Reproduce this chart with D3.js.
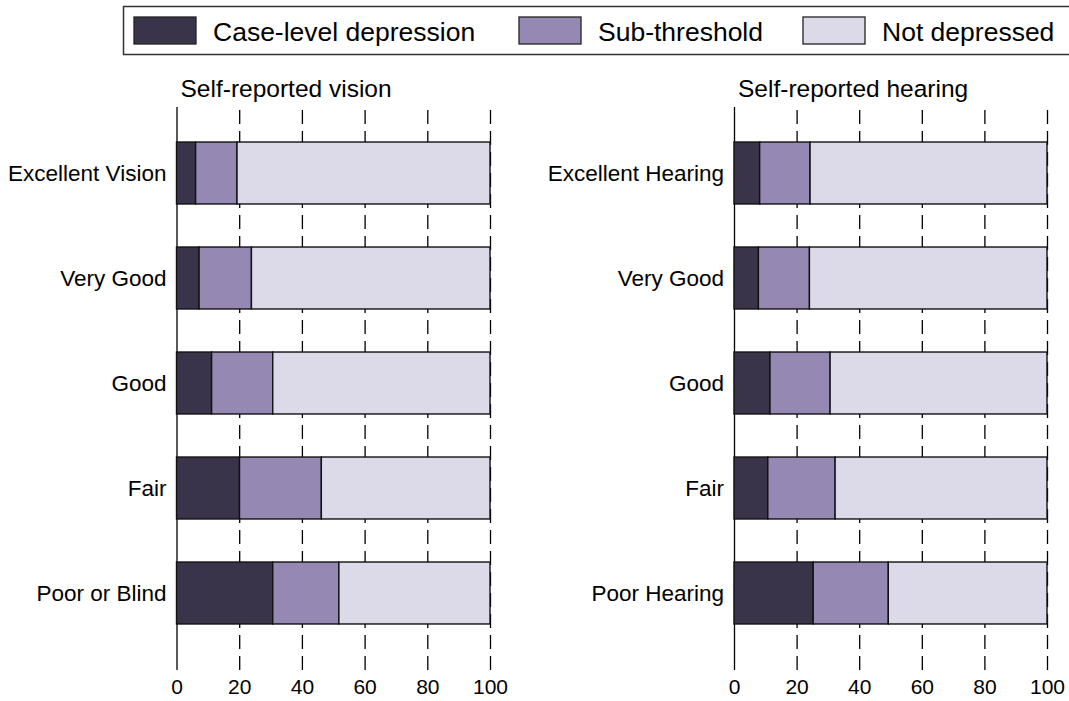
<!DOCTYPE html>
<html>
<head>
<meta charset="utf-8">
<script src="https://cdn.jsdelivr.net/npm/d3@7"></script>
<style>
  body { margin: 0; background: #fff; }
  text { font-family: "Liberation Sans", Arial, sans-serif; fill: #000; }
</style>
</head>
<body>
<div id="chart"></div>
<script>
// data
const seriesNames = ["Case-level depression", "Sub-threshold", "Not depressed"];
const colors = ["#39344a", "#9589b3", "#dcd9e8"];

const visionCats = ["Excellent Vision", "Very Good", "Good", "Fair", "Poor or Blind"];
const visionCase = [6.1, 7.2, 11.2, 20.1, 30.7];
const visionSub = [13.2, 16.7, 19.5, 26.1, 21.1];

const hearingCats = ["Excellent Hearing", "Very Good", "Good", "Fair", "Poor Hearing"];
const hearingCase = [8.2, 7.8, 11.5, 10.8, 25.3];
const hearingSub = [16.1, 16.3, 19.2, 21.5, 24.0];

const xTicks = [0, 20, 40, 60, 80, 100];

const width = 1069, height = 701;
const svg = d3.select("#chart").append("svg")
  .attr("width", width).attr("height", height);

// legend
const legend = svg.append("g");
legend.append("rect")
  .attr("x", 123.5).attr("y", 6.5).attr("width", 960).attr("height", 48)
  .attr("fill", "none").attr("stroke", "#333").attr("stroke-width", 1.5);
const legendX = [134, 519, 803];
seriesNames.forEach((name, i) => {
  legend.append("rect")
    .attr("x", legendX[i]).attr("y", 17).attr("width", 62).attr("height", 27)
    .attr("fill", colors[i]).attr("stroke", "#222").attr("stroke-width", 1.3);
  legend.append("text")
    .attr("x", legendX[i] + 79).attr("y", 40.5)
    .style("font-size", "26.5px")
    .text(name);
});

function panel(x0, x1, title, cats, caseVals, subVals) {
  const g = svg.append("g");
  const x = d3.scaleLinear().domain([0, 100]).range([x0, x1]);
  const y = d3.scaleBand().domain(cats).range([120.5, 645.5])
    .paddingInner(0.41).paddingOuter(0.205);

  const axisTop = 107, axisBottom = 670;

  // axis with dashed gridlines
  const ax = g.append("g")
    .attr("transform", `translate(0,${axisBottom})`)
    .call(d3.axisBottom(x).tickValues(xTicks)
      .tickSizeInner(-(axisBottom - axisTop)).tickSizeOuter(0).tickPadding(9));
  ax.select(".domain").remove();
  ax.selectAll(".tick line")
    .attr("stroke", "#000").attr("stroke-width", 1.3)
    .attr("stroke-dasharray", d => d === 0 ? null : "14,7");
  ax.selectAll(".tick text")
    .style("font-size", "21px").attr("fill", "#000")
    .attr("font-family", null);

  const rows = cats.map((c, i) => {
    const a = caseVals[i], b = subVals[i];
    return { cat: c, segs: [[0, a], [a, a + b], [a + b, 100]] };
  });

  const row = g.selectAll("g.row").data(rows).join("g").attr("class", "row");
  row.selectAll("rect")
    .data(d => d.segs.map((s, k) => ({ cat: d.cat, s, k })))
    .join("rect")
    .attr("x", d => x(d.s[0]))
    .attr("width", d => x(d.s[1]) - x(d.s[0]))
    .attr("y", d => y(d.cat))
    .attr("height", y.bandwidth())
    .attr("fill", d => colors[d.k])
    .attr("stroke", "#111").attr("stroke-width", 1.4);

  g.selectAll("text.cat").data(cats).join("text")
    .attr("class", "cat")
    .attr("x", x0 - 10)
    .attr("y", d => y(d) + y.bandwidth() / 2)
    .attr("dy", "0.35em")
    .attr("text-anchor", "end")
    .style("font-size", "22.5px")
    .text(d => d);

  g.append("text")
    .attr("x", x0 + 4).attr("y", 97)
    .style("font-size", "24.5px")
    .text(title);
}

panel(176.5, 490, "Self-reported vision", visionCats, visionCase, visionSub);
panel(734, 1047, "Self-reported hearing", hearingCats, hearingCase, hearingSub);
</script>
</body>
</html>
